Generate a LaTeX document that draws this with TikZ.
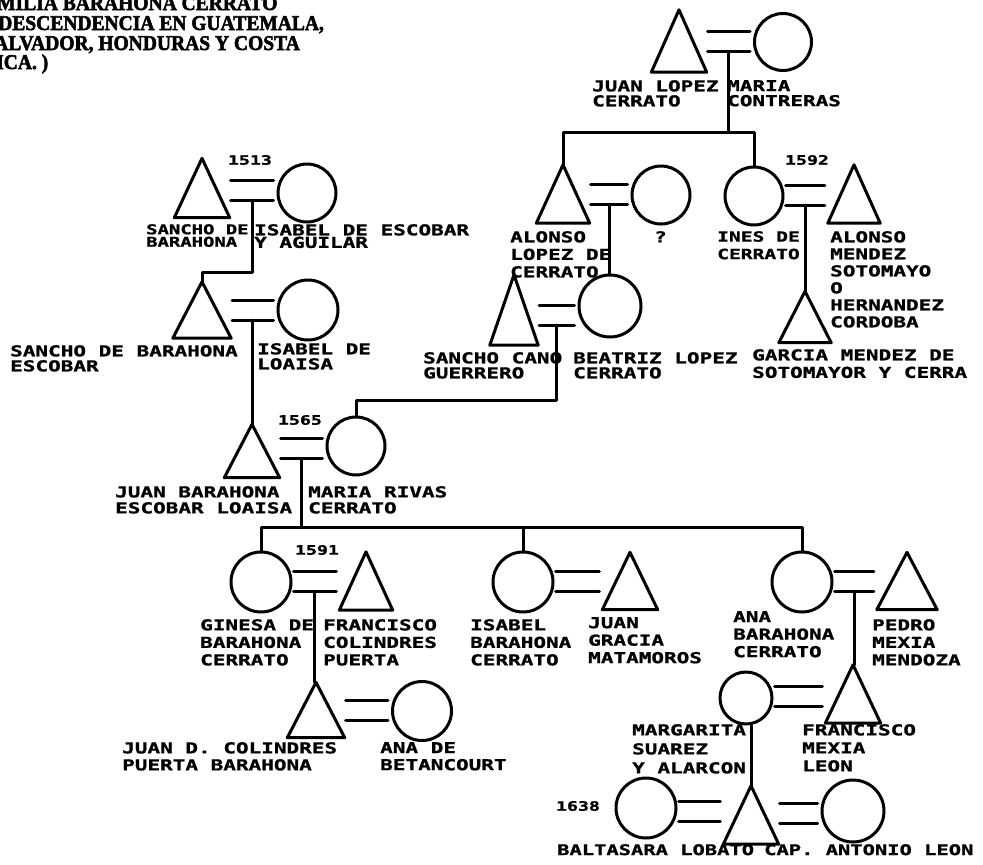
\documentclass[tikz,border=0pt]{standalone}
\usepackage{fontspec}
\newfontfamily\plotter[FakeStretch=1.40,FakeBold=1.2]{DejaVu Sans Mono Bold}
\newfontfamily\heading[FakeStretch=0.93,FakeBold=2.5]{Liberation Serif Bold}
\usetikzlibrary{calc}

\tikzset{
  kin/.style={line width=3pt, line join=round, line cap=round},
  man/.style={minimum width=55pt, minimum height=58pt, inner sep=0pt},
  woman/.style={circle, draw, kin, minimum size=58pt, inner sep=0pt},
  pname/.style={anchor=north west, inner sep=0pt, align=left,
    font=\plotter\fontsize{15}{17.5}\selectfont},
  tight/.style={font=\plotter\fontsize{15}{15}\selectfont},
  year/.style={inner sep=0pt, font=\plotter\fontsize{13}{13}\selectfont},
  headline/.style={anchor=base west, inner sep=0pt,
    font=\heading\fontsize{21}{21}\selectfont},
}

% a man: triangle drawn on a blank node
\newcommand\varon[3][]{%
  \node[man,#1] (#2) at (#3) {};
  \draw[kin] (#2.south west) -- (#2.north) -- (#2.south east) -- cycle;}

% marriage sign between two partners, #4 = point on the lower line
\newcommand\wed[4][0]{%
  \draw[kin] let \p1=(#2.east), \p2=(#3.west),
      \p3=($(#2.center)!.5!(#3.center)+(0,#1)$) in
    (\x1+1pt,\y3+10pt) -- (\x2-3pt,\y3+10pt)
    (\x1+1pt,\y3-10pt) -- (\x2-3pt,\y3-10pt)
    coordinate (#4) at (\x1/2+\x2/2-1pt,\y3-10pt);}

\begin{document}
\begin{tikzpicture}[x=1pt,y=-1pt]
\useasboundingbox (0,0) rectangle (983,865);
\clip (0,0) rectangle (983,865);

% title
\node[headline] (t1) at (-3,10) {MILIA BARAHONA CERRATO};
\node[headline] (t2) at (-2,30) {DESCENDENCIA EN GUATEMALA,};
\node[headline] (t3) at (-6,50) {ALVADOR, HONDURAS Y COSTA};
\node[headline] (t4) at (-4,69) {ICA. )};

% Lopez Cerrato
\varon[minimum height=62pt]{jlc}{679,41}
\node[woman, minimum size=57pt] (mco) at (783,42) {};
\wed{jlc}{mco}{d1}
\node[pname, tight] (jlcn) at (592,80) {JUAN LOPEZ\\CERRATO};
\node[pname, tight] (mcon) at (727,80) {MARIA\\CONTRERAS};

\varon[minimum width=53pt]{alc}{563,194}
\node[woman] (unk) at (661,195) {};
\wed{alc}{unk}{d3}
\node[pname] (alcn) at (510,231) {ALONSO\\LOPEZ DE\\CERRATO};
\node[pname] (unkn) at (654,231) {?};

\node[woman] (idc) at (754,196) {};
\varon[minimum width=52pt]{ams}{854,194}
\wed{idc}{ams}{d4}
\node[year] (y1592) at (807,160) {1592};
\node[pname, font=\plotter\fontsize{14}{17.5}\selectfont] (idcn) at (717,231) {INES DE\\CERRATO};
\node[pname, font=\plotter\fontsize{15}{17}\selectfont] (amsn) at (830,231)
  {ALONSO\\MENDEZ\\SOTOMAYO\\O\\HERNANDEZ\\CORDOBA};

\coordinate (k1) at ($(d1)+(0,81)$);
\draw[kin] (d1) -- (k1);
\draw[kin] (alc.north) |- (k1) -| (idc.north);

% Mendez de Sotomayor
\varon[minimum width=52pt, minimum height=51pt]{gms}{805,317}
\draw[kin] (d4) -- (d4 |- gms.north);
\node[pname] (gmsn) at (752,349) {GARCIA MENDEZ DE\\SOTOMAYOR Y CERRA};

% Cano / Lopez
\varon[minimum width=48pt, minimum height=70pt]{scg}{514,310}
\node[woman, minimum size=62pt] (blc) at (610,306) {};
\draw[kin] (d3) -- (d3 |- blc.north);
\wed[7]{scg}{blc}{d6}
\node[pname, tight] (scgn) at (423,352) {SANCHO CANO\\GUERRERO};
\node[pname, tight] (blcn) at (573,352) {BEATRIZ LOPEZ\\CERRATO};

% Barahona
\varon[minimum height=59pt]{sdb}{202,188}
\node[woman] (ide) at (307,193) {};
\wed{sdb}{ide}{d2}
\node[year] (y1513) at (250,160) {1513};
\node[pname, font=\plotter\fontsize{13.5}{12.5}\selectfont] (sdbn) at (146,224) {SANCHO DE\\BARAHONA};
\node[pname, font=\plotter\fontsize{15}{12.5}\selectfont] (iden) at (254,224) {ISABEL DE ESCOBAR\\Y AGUILAR};

\varon[minimum width=58pt, minimum height=56pt]{sbe}{202,310}
\node[woman, minimum size=60pt] (idl) at (308,310) {};
\wed{sbe}{idl}{d5}
\coordinate (k2) at ($(d2)+(0,72)$);
\draw[kin] (d2) -- (k2) -| (sbe.north);
\node[pname, tight] (sben) at (10,345) {SANCHO DE BARAHONA\\ESCOBAR};
\node[pname, tight] (idln) at (257,343) {ISABEL DE\\LOAISA};

\varon[minimum height=53pt]{jbe}{252,451}
\node[woman] (mrc) at (356,446) {};
\draw[kin] (d5) -- (d5 |- jbe.north);
\coordinate (k6) at ($(d6)+(0,75)$);
\draw[kin] (d6) -- (k6) -| (mrc.north);
\wed{jbe}{mrc}{d7}
\node[year] (y1565) at (300,420) {1565};
\node[pname, font=\plotter\fontsize{15}{16}\selectfont] (jben) at (115,486) {JUAN BARAHONA\\ESCOBAR LOAISA};
\node[pname, font=\plotter\fontsize{15}{16}\selectfont] (mrcn) at (308,486) {MARIA RIVAS\\CERRATO};

% children of Juan Barahona and Maria Rivas
\node[woman, minimum size=60pt] (gbc) at (261,582) {};
\node[woman, minimum size=60pt] (ibc) at (523,582) {};
\node[woman, minimum size=60pt] (abc) at (802,582) {};
\coordinate (k7) at ($(d7)+(0,69)$);
\draw[kin] (d7) -- (k7);
\draw[kin] (gbc.north) |- (k7) -| (abc.north);
\draw[kin] (ibc.north) -- (ibc.north |- k7);

\varon[minimum width=53pt]{fcp}{366,581}
\wed{gbc}{fcp}{d8}
\node[year] (y1591) at (317,550) {1591};
\node[pname] (gbcn) at (200,619) {GINESA DE\\BARAHONA\\CERRATO};
\node[pname] (fcpn) at (323,619) {FRANCISCO\\COLINDRES\\PUERTA};

\varon[minimum height=57pt]{jgm}{630,581}
\wed{ibc}{jgm}{d9}
\node[pname] (ibcn) at (470,619) {ISABEL\\BARAHONA\\CERRATO};
\node[pname] (jgmn) at (588,617) {JUAN\\GRACIA\\MATAMOROS};

\varon[minimum width=60pt, minimum height=57pt]{pmm}{907,581}
\wed{abc}{pmm}{d10}
\node[pname] (abcn) at (733,611) {ANA\\BARAHONA\\CERRATO};
\node[pname] (pmmn) at (872,619) {PEDRO\\MEXIA\\MENDOZA};

% Colindres
\varon[minimum width=57pt, minimum height=55pt]{jdc}{316,710}
\draw[kin] (d8) -- (d8 |- jdc.north);
\node[woman, minimum size=59pt] (adb) at (422,711) {};
\wed{jdc}{adb}{d11}
\node[pname, font=\plotter\fontsize{15}{17}\selectfont] (jdcn) at (122,742) {JUAN D. COLINDRES\\PUERTA BARAHONA};
\node[pname, font=\plotter\fontsize{15}{17}\selectfont] (adbn) at (380,742) {ANA DE\\BETANCOURT};

% Mexia
\varon{fml}{853,694}
\draw[kin] (d10) -- (d10 |- fml.north);
\node[woman, minimum size=52pt] (msa) at (746,698) {};
\wed{msa}{fml}{d12}
\node[pname, font=\plotter\fontsize{15}{19}\selectfont] (msan) at (632,724) {MARGARITA\\SUAREZ\\Y ALARCON};
\node[pname, font=\plotter\fontsize{15}{18}\selectfont] (fmln) at (802,724) {FRANCISCO\\MEXIA\\LEON};

% Leon
\varon{cal}{751,815}
\draw[kin] (cal.north |- msa.south) -- (cal.north);
\node[woman, minimum size=60pt] (blo) at (646,808) {};
\node[woman, minimum size=62pt] (wf2) at (853,811) {};
\wed{blo}{cal}{d13}
\wed{cal}{wf2}{d14}
\node[year] (y1638) at (578,806) {1638};
\node[pname, font=\plotter\fontsize{14.6}{15}\selectfont] (blon) at (557,844) {BALTASARA LOBATO};
\node[pname, font=\plotter\fontsize{14.6}{15}\selectfont] (caln) at (764,844) {CAP. ANTONIO LEON};
\end{tikzpicture}
\end{document}
